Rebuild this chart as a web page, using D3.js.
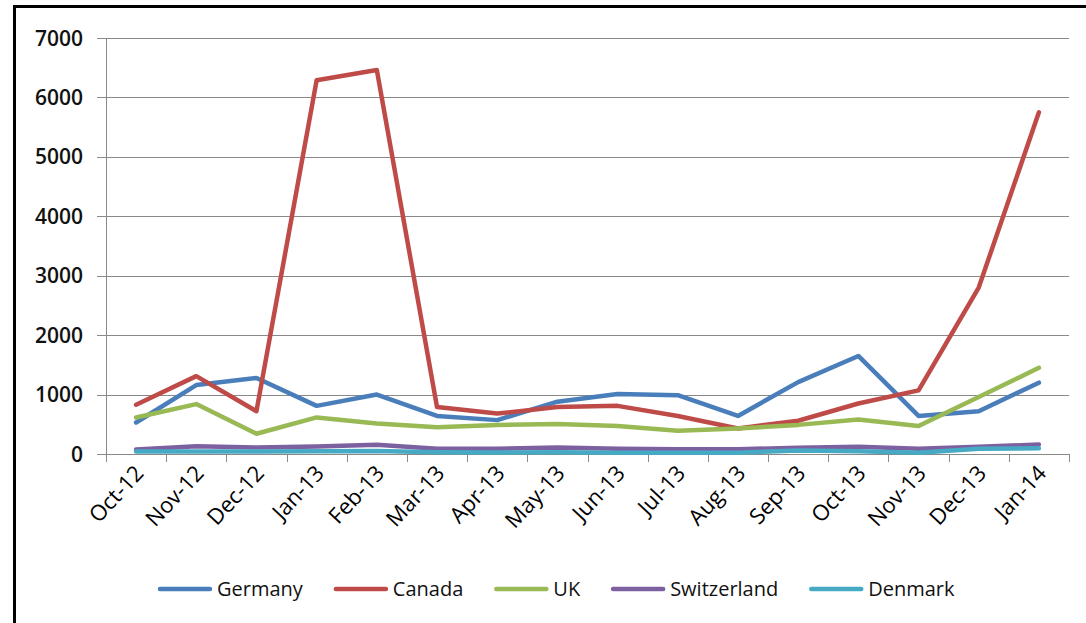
<!DOCTYPE html>
<html>
<head>
<meta charset="utf-8">
<script src="https://cdn.jsdelivr.net/npm/d3@7"></script>
<style>
  body { margin: 0; background: #fff; }
  svg { display: block; font-family: "Open Sans", "DejaVu Sans", sans-serif; }
</style>
</head>
<body>
<svg id="chart" width="1086" height="623"></svg>
<script>
// data
var months = ["Oct-12", "Nov-12", "Dec-12", "Jan-13", "Feb-13", "Mar-13", "Apr-13", "May-13",
              "Jun-13", "Jul-13", "Aug-13", "Sep-13", "Oct-13", "Nov-13", "Dec-13", "Jan-14"];
var germany     = [530, 1160, 1280, 810, 1000, 640, 570, 880, 1010, 990, 640, 1210, 1650, 640, 720, 1200];
var canada      = [830, 1310, 720, 6290, 6460, 790, 680, 790, 810, 640, 430, 560, 850, 1070, 2800, 5750];
var uk          = [615, 840, 340, 615, 515, 450, 490, 505, 470, 390, 430, 490, 580, 470, 960, 1450];
var switzerland = [75, 130, 110, 125, 155, 90, 90, 110, 90, 80, 80, 105, 120, 90, 120, 160];
var denmark     = [40, 40, 40, 45, 50, 30, 25, 30, 20, 20, 20, 60, 45, 20, 90, 95];
var yTicks = [0, 1000, 2000, 3000, 4000, 5000, 6000, 7000];

var series = [
    {name: "Germany", values: germany, color: "#4a7ebb"},
    {name: "Canada", values: canada, color: "#be4b48"},
    {name: "UK", values: uk, color: "#98b954"},
    {name: "Switzerland", values: switzerland, color: "#7d60a0"},
    {name: "Denmark", values: denmark, color: "#46aac5"}
];

var svg = d3.select("#chart");

// outer frame (only left and top edges show in the picture)
svg.append("rect")
    .attr("x", 14.5).attr("y", 6.5)
    .attr("width", 1200).attr("height", 800)
    .attr("fill", "none")
    .attr("stroke", "#000")
    .attr("stroke-width", 3);

var plotL = 106, plotR = 1069, plotT = 38, plotB = 454;

var x = d3.scaleBand().domain(months).range([plotL, plotR]).paddingInner(0).paddingOuter(0);
var y = d3.scaleLinear().domain([0, 7000]).range([plotB, plotT]);

// gridlines + y ticks
svg.append("g").selectAll("line")
    .data(yTicks)
    .enter().append("line")
    .attr("x1", plotL - 9).attr("x2", plotR)
    .attr("y1", d => Math.round(y(d)) + 0.5)
    .attr("y2", d => Math.round(y(d)) + 0.5)
    .attr("stroke", "#898989")
    .attr("stroke-width", 1);

svg.append("g").selectAll("text")
    .data(yTicks)
    .enter().append("text")
    .attr("x", 83)
    .attr("y", d => y(d))
    .attr("dy", "0.36em")
    .attr("text-anchor", "end")
    .attr("font-size", 21)
    .attr("font-weight", 600)
    .attr("fill", "#111")
    .text(d => d);

// y axis line
svg.append("line")
    .attr("x1", plotL + 0.5).attr("x2", plotL + 0.5)
    .attr("y1", plotT).attr("y2", plotB)
    .attr("stroke", "#898989");

// x ticks at category boundaries
var bounds = months.map(m => x(m)).concat([plotR]);
svg.append("g").selectAll("line")
    .data(bounds)
    .enter().append("line")
    .attr("x1", d => Math.round(d) + 0.5).attr("x2", d => Math.round(d) + 0.5)
    .attr("y1", plotB).attr("y2", plotB + 8)
    .attr("stroke", "#898989");

// x labels, rotated
svg.append("g").selectAll("text")
    .data(months)
    .enter().append("text")
    .attr("transform", d => "translate(" + (x(d) + x.bandwidth() / 2 + 3) + "," + (plotB + 15) + ") rotate(-47)")
    .attr("dy", "0.36em")
    .attr("text-anchor", "end")
    .attr("font-size", 22)
    .attr("fill", "#000")
    .text(d => d);

// lines
var line = d3.line()
    .x((d, i) => x(months[i]) + x.bandwidth() / 2)
    .y(d => y(d));

svg.append("g").selectAll("path")
    .data(series)
    .enter().append("path")
    .attr("d", d => line(d.values))
    .attr("fill", "none")
    .attr("stroke", d => d.color)
    .attr("stroke-width", 4.5)
    .attr("stroke-linejoin", "round")
    .attr("stroke-linecap", "round");

// legend
var legend = svg.append("g");
var lx = 158, ly = 589;
series.forEach(function(s) {
    legend.append("line")
        .attr("x1", lx + 2).attr("x2", lx + 52)
        .attr("y1", ly).attr("y2", ly)
        .attr("stroke", s.color)
        .attr("stroke-width", 4.5)
        .attr("stroke-linecap", "round");
    var t = legend.append("text")
        .attr("x", lx + 59)
        .attr("y", ly)
        .attr("dy", "0.36em")
        .attr("font-size", 20)
        .attr("fill", "#111")
        .text(s.name);
    lx += 59 + t.node().getComputedTextLength() + 31;
});
</script>
</body>
</html>
